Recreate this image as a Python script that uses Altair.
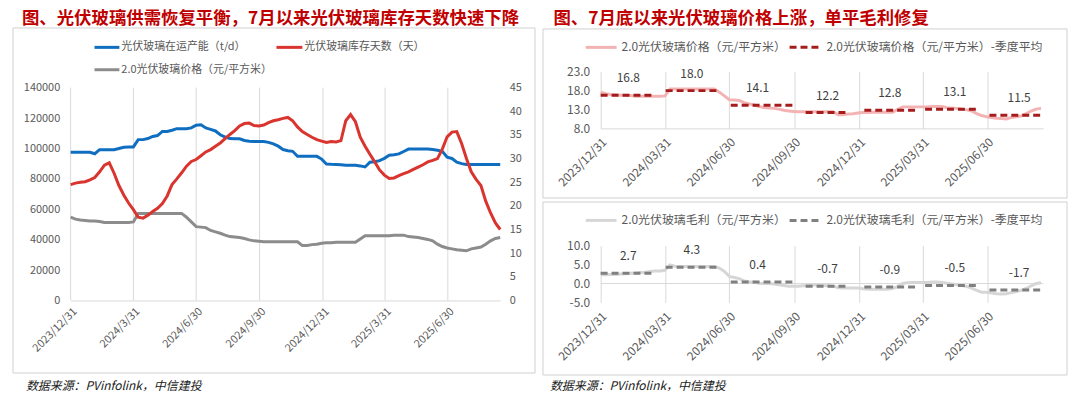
import altair as alt
import pandas as pd

FONT = "Microsoft YaHei, Noto Sans CJK SC, sans-serif"
AX = "#595959"
GRID = "#D9D9D9"
FRAME = "#D0D0D0"
TITLE_RED = "#C00000"

# ---------------- data ----------------
dates = pd.date_range("2023-12-31", periods=90, freq="7D").strftime("%Y-%m-%d").tolist()

capacity = [97500, 97500, 97500, 97500, 97500, 96500, 99200, 99200, 99200, 99200,
            100000, 100800, 101000, 101000, 105800, 105800, 106500, 107900, 108500, 111200,
            111200, 112000, 113000, 113000, 113000, 113500, 115300, 115600, 113500, 112500,
            111500, 109000, 107500, 106500, 106300, 106300, 105200, 104700, 104600, 104600,
            104500, 104000, 103000, 101500, 99300, 98500, 98100, 94900, 94900, 94900,
            94900, 94800, 93000, 89800, 89600, 89500, 89300, 89000, 89000, 89000,
            88500, 87800, 90900, 91200, 92000, 93500, 95500, 95800, 96400, 98000,
            99600, 99700, 99700, 99700, 99600, 99300, 98800, 98100, 94200, 93400,
            91000, 90000, 89400, 89400, 89400, 89400, 89400, 89400, 89400, 89400]

inventory = [24.5, 24.8, 25.0, 25.1, 25.5, 26.0, 27.2, 28.6, 29.1, 26.9,
             24.3, 22.3, 20.6, 19.2, 17.6, 17.4, 18.0, 18.8, 19.5, 20.5,
             22.1, 24.5, 25.7, 27.0, 28.4, 29.4, 29.8, 30.6, 31.4, 31.9,
             32.6, 33.3, 34.2, 35.1, 35.9, 36.9, 37.4, 37.5, 37.0, 36.9,
             37.1, 37.6, 38.0, 38.2, 38.5, 38.7, 38.0, 36.7, 35.7, 35.1,
             34.5, 34.0, 33.7, 33.4, 33.6, 33.5, 33.8, 38.0, 39.3, 37.8,
             34.5, 32.6, 30.9, 29.3, 27.6, 26.5, 25.8, 25.9, 26.4, 26.8,
             27.2, 27.7, 28.2, 28.7, 29.3, 29.6, 30.0, 32.0, 34.6, 35.6,
             35.7, 33.2, 30.0, 27.2, 25.6, 24.3, 21.0, 18.5, 16.4, 15.0]

price = [17.6, 17.2, 17.0, 16.9, 16.8, 16.8, 16.7, 16.5, 16.5, 16.5, 16.5, 16.5, 16.5,
         16.6, 18.4, 18.4, 18.4, 18.4, 18.4, 18.4, 18.4, 18.4, 18.4, 18.4, 17.6, 16.6,
         15.6, 15.5, 15.4, 14.8, 14.5, 14.2, 13.8, 13.5, 13.4, 13.3, 13.1, 12.8, 12.6,
         12.5, 12.4, 12.4, 12.4, 12.4, 12.4, 12.4, 12.4, 12.4, 11.6, 11.6, 11.8, 11.9,
         12.1, 12.2, 12.2, 12.3, 12.3, 12.3, 12.3, 12.3, 13.0, 13.7, 13.7, 13.7, 13.7,
         13.7, 13.7, 13.8, 13.8, 13.8, 13.5, 13.4, 13.3, 13.1, 12.9, 12.6, 11.9, 11.4,
         11.1, 10.9, 10.7, 10.6, 10.5, 10.9, 11.1, 11.3, 11.9, 12.6, 13.1, 13.3]

margin = [2.3, 2.3, 2.4, 2.4, 2.5, 2.6, 2.7, 2.8, 2.9, 3.0, 3.2, 3.3, 3.3,
          3.5, 4.9, 4.6, 4.5, 4.5, 4.5, 4.5, 4.5, 4.5, 4.5, 4.5, 4.1, 3.2,
          1.9, 1.6, 1.3, 0.7, 0.5, 0.4, 0.1, 0.0, 0.0, -0.1, -0.3, -0.5, -0.7,
          -0.7, -0.7, -0.6, -0.5, -0.4, -0.4, -0.5, -0.6, -0.7, -1.1, -1.2, -1.2, -1.2,
          -1.2, -1.4, -1.5, -1.5, -1.5, -1.5, -1.5, -1.3, -0.8, 0.0, 0.2, 0.3, 0.3,
          0.3, 0.3, 0.4, 0.4, 0.3, 0.1, -0.1, -0.3, -0.5, -0.8, -1.2, -1.8, -2.3,
          -2.3, -2.5, -2.7, -2.8, -2.7, -2.4, -2.1, -1.8, -1.3, -0.6, 0.0, 0.2]

quarter_start = ["2023-12-31", "2024-04-01", "2024-07-02", "2024-10-16", "2025-01-07", "2025-04-03", "2025-07-03"]
quarter_end = ["2024-03-17", "2024-06-14", "2024-09-28", "2024-12-13", "2025-03-21", "2025-06-14", "2025-09-13"]
label_date = ["2024-02-08", "2024-05-08", "2024-08-09", "2024-11-16", "2025-02-12", "2025-05-15", "2025-08-14"]
price_avg = [16.8, 18.0, 14.1, 12.2, 12.8, 13.1, 11.5]
margin_avg = [2.7, 4.3, 0.4, -0.7, -0.9, -0.5, -1.7]

tick_dates = ["2023-12-31", "2024-03-31", "2024-06-30", "2024-09-30", "2024-12-31", "2025-03-31", "2025-06-30"]
left_y_ticks = [0, 20000, 40000, 60000, 80000, 100000, 120000, 140000]
right_y_ticks = [0, 5, 10, 15, 20, 25, 30, 35, 40, 45]
price_ticks = [8, 13, 18, 23]
margin_ticks = [-5, 0, 5, 10]

title_left = "图、光伏玻璃供需恢复平衡，7月以来光伏玻璃库存天数快速下降"
title_right = "图、7月底以来光伏玻璃价格上涨，单平毛利修复"
leg_cap = "光伏玻璃在运产能（t/d）"
leg_inv = "光伏玻璃库存天数（天）"
leg_price = "2.0光伏玻璃价格（元/平方米）"
leg_price_avg = "2.0光伏玻璃价格（元/平方米）-季度平均"
leg_margin = "2.0光伏玻璃毛利（元/平方米）"
leg_margin_avg = "2.0光伏玻璃毛利（元/平方米）-季度平均"
source = "数据来源：PVinfolink，中信建投"

df = pd.DataFrame({"date": dates, "cap": capacity, "inv": inventory, "price": price, "margin": margin})
dq = pd.DataFrame({"qs": quarter_start, "qe": quarter_end, "lab": label_date,
                   "pavg": price_avg, "mavg": margin_avg,
                   "plab": [f"{v:.1f}" for v in price_avg],
                   "mlab": [f"{v:.1f}" for v in margin_avg]})
dticks = pd.DataFrame({"t": tick_dates})
one = pd.DataFrame({"k": [0]})

# colours
BLUE = "#0F6EC0"
RED = "#D9342E"
GRAY = "#8C8C8C"
PINK = "#F3B3B3"
DRED = "#A51C1C"
LGRAY = "#D6D6D6"
DGRAY = "#808080"


def dt(s):
    y, m, d = (int(p) for p in s.split("-"))
    return alt.DateTime(year=y, month=m, date=d, utc=True)


def x_enc(field, end, fmt, size, grid, domain, pad):
    return alt.X(
        f"{field}:T",
        scale=alt.Scale(type="utc", domain=[dt("2023-12-31"), dt(end)], nice=False),
        axis=alt.Axis(values=[dt(s) for s in tick_dates],
                      labelExpr=f"utcFormat(datum.value, '{fmt}')",
                      labelAngle=-45, labelFontSize=size, labelFont=FONT, labelColor=AX,
                      grid=grid, gridColor=GRID, gridWidth=1,
                      domain=domain, domainColor=GRID, domainWidth=1,
                      ticks=False, tickSize=0, labelPadding=pad,
                      labelFlush=False, labelOverlap=False, title=None))


def txt(s, x, y, size, color, weight="normal", style="normal", align="left"):
    return alt.Chart(one).mark_text(
        text=s, align=align, baseline="middle", font=FONT, fontSize=size,
        fontWeight=weight, fontStyle=style, color=color
    ).encode(x=alt.value(x), y=alt.value(y))


def hrule(x1, x2, y, color, width=3, dash=None):
    kw = dict(color=color, strokeWidth=width)
    if dash:
        kw["strokeDash"] = dash
    return alt.Chart(one).mark_rule(**kw).encode(x=alt.value(x1), x2=alt.value(x2), y=alt.value(y))


def frame(x1, x2, y1, y2):
    return alt.Chart(one).mark_rect(filled=False, stroke=FRAME, strokeWidth=1).encode(
        x=alt.value(x1), x2=alt.value(x2), y=alt.value(y1), y2=alt.value(y2))


TITLE_Y = -52.5

# ---------------- left chart ----------------
LW, LH, LTOP = 432, 230, 16
LEND = "2025-09-14"


def lx(field):
    return x_enc(field, LEND, "%Y/%-m/%-d", 11, False, True, 5)


y_cap = alt.Y("cap:Q", scale=alt.Scale(domain=[0, 140000], range=[LH, LTOP], nice=False, zero=False),
              axis=alt.Axis(orient="left", values=left_y_ticks, format="d", grid=False, domain=False,
                            ticks=False, tickSize=0, labelFontSize=11, labelFont=FONT, labelColor=AX,
                            labelPadding=11, labelOverlap=False, title=None))
right_scale = alt.Scale(domain=[0, 45], range=[LH, LTOP], nice=False, zero=False)
y_inv = alt.Y("inv:Q", scale=right_scale,
              axis=alt.Axis(orient="right", values=right_y_ticks, format="d", grid=False, domain=False,
                            ticks=False, tickSize=0, labelFontSize=11, labelFont=FONT, labelColor=AX,
                            labelPadding=9, labelOverlap=False, title=None))
y_pr = alt.Y("price:Q", scale=right_scale, axis=None)

left = alt.layer(
    frame(-58, 467, -44, 303),
    alt.Chart(dticks).mark_rule(color=GRID, strokeWidth=1).encode(
        x=lx("t"), y=alt.value(LTOP), y2=alt.value(LH)),
    alt.Chart(df).mark_line(color=BLUE, strokeWidth=3).encode(x=lx("date"), y=y_cap),
    alt.Chart(df).mark_line(color=GRAY, strokeWidth=3).encode(x=lx("date"), y=y_pr),
    alt.Chart(df).mark_line(color=RED, strokeWidth=3).encode(x=lx("date"), y=y_inv),
    hrule(24, 49, -24.5, BLUE),
    txt(leg_cap, 51, -24.5, 11, AX),
    hrule(207, 233, -24.5, RED),
    txt(leg_inv, 235, -24.5, 11, AX),
    hrule(24, 49, -2, GRAY),
    txt(leg_price, 51, -2, 11, AX),
    txt(title_left, -49, TITLE_Y, 17.5, TITLE_RED, weight="bold"),
    txt(source, -45, 316, 12, "#1A1A1A", style="italic"),
).resolve_scale(y="independent").properties(width=LW, height=LH)

# ---------------- right charts ----------------
RW, RH = 445, 57
REND = "2025-09-17"


def rx(field, domain):
    return x_enc(field, REND, "%Y/%m/%d", 12, True, domain, 8)


def yaxis(vals):
    return alt.Axis(values=vals, labelExpr="replace(format(datum.value, '.1f'), '\u2212', '-')",
                    grid=False, domain=False, ticks=False, tickSize=0, labelFontSize=12,
                    labelFont=FONT, labelColor=AX, labelPadding=11, labelOverlap=False,
                    labelFlush=False, title=None)


def y_price(field):
    return alt.Y(f"{field}:Q", scale=alt.Scale(domain=[8, 23], nice=False, zero=False), axis=yaxis(price_ticks))


def y_margin(field):
    return alt.Y(f"{field}:Q", scale=alt.Scale(domain=[-5, 10], nice=False, zero=False), axis=yaxis(margin_ticks))


top = alt.layer(
    frame(-58, 469, -43, 127),
    alt.Chart(df).mark_line(color=PINK, strokeWidth=3).encode(x=rx("date", True), y=y_price("price")),
    alt.Chart(dq).mark_rule(color=DRED, strokeWidth=3, strokeDash=[7, 4]).encode(
        x=rx("qs", True), x2="qe:T", y=y_price("pavg")),
    alt.Chart(dq).mark_text(dy=-17, font=FONT, fontSize=12, color="#404040").encode(
        x=rx("lab", True), y=y_price("pavg"), text="plab:N"),
    hrule(-15, 16, -24.5, PINK),
    txt(leg_price, 21, -24.5, 12, AX),
    hrule(190, 220, -24.5, DRED, dash=[7, 4]),
    txt(leg_price_avg, 227, -24.5, 12, AX),
    txt(title_right, -47.5, TITLE_Y, 17.5, TITLE_RED, weight="bold"),
).properties(width=RW, height=RH)

bottom = alt.layer(
    frame(-58, 469, -44, 130),
    alt.Chart(one).mark_rule(color=GRID, strokeWidth=1).encode(y=y_margin("k")),
    alt.Chart(df).mark_line(color=LGRAY, strokeWidth=3).encode(x=rx("date", False), y=y_margin("margin")),
    alt.Chart(dq).mark_rule(color=DGRAY, strokeWidth=3, strokeDash=[7, 4]).encode(
        x=rx("qs", False), x2="qe:T", y=y_margin("mavg")),
    alt.Chart(dq).mark_text(dy=-17, font=FONT, fontSize=12, color="#404040").encode(
        x=rx("lab", False), y=y_margin("mavg"), text="mlab:N"),
    hrule(-15, 16, -25.5, LGRAY),
    txt(leg_margin, 21, -25.5, 12, AX),
    hrule(190, 220, -25.5, DGRAY, dash=[7, 4]),
    txt(leg_margin_avg, 227, -25.5, 12, AX),
    txt(source, -51, 141, 12, "#1A1A1A", style="italic"),
).properties(width=RW, height=RH)

right = alt.vconcat(top, bottom, spacing=2)

chart = alt.hconcat(left, right, spacing=6).properties(
    padding={"left": 4, "top": 1, "right": 4, "bottom": 0},
    background="white",
).configure_view(stroke=None)

chart.save("out.html", embed_options={"renderer": "svg", "actions": False})
